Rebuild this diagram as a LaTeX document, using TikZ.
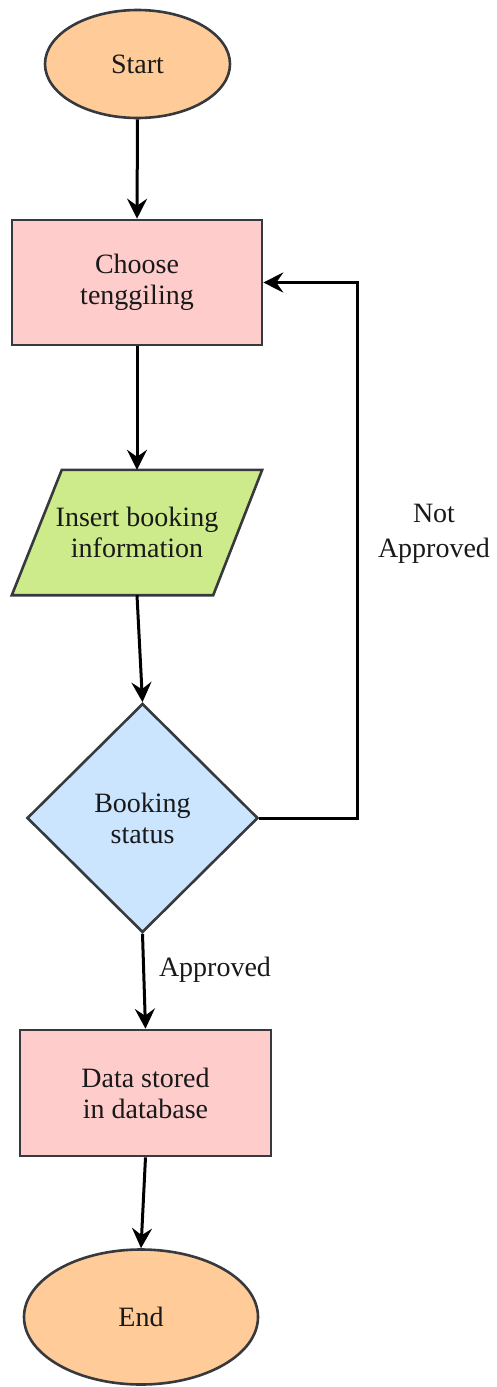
\documentclass[tikz,border=0pt]{standalone}
\usepackage{fontspec}
\setmainfont{Liberation Serif}
\usetikzlibrary{shapes.geometric,arrows.meta,backgrounds}
\definecolor{termfill}{HTML}{FFCC99}
\definecolor{procfill}{HTML}{FFCCCC}
\definecolor{iofill}{HTML}{CDEB8B}
\definecolor{decfill}{HTML}{CCE5FF}
\definecolor{edgegray}{HTML}{36393D}

\begin{document}
\begin{tikzpicture}[x=1pt,y=-1pt,
  every node/.style={font=\fontsize{28}{31}\selectfont, align=center, inner sep=0pt, text=black!90},
  shapeline/.style={draw=edgegray, line width=2.6pt},
  terminal/.style={shapeline, ellipse, fill=termfill},
  process/.style={shapeline, rectangle, fill=procfill, minimum width=250pt, minimum height=125pt},
  iobox/.style={rectangle, minimum width=250pt, minimum height=125pt},
  decision/.style={shapeline, diamond, fill=decfill, minimum width=231pt, minimum height=229pt},
  flow/.style={line width=3pt, draw=black, -{Stealth[length=20pt,width=20pt,inset=7pt]}},
  tag/.style={font=\fontsize{28}{35}\selectfont}
]
\useasboundingbox (0,0) rectangle (496,1387);

% nodes of the flow
\node[terminal, minimum width=185pt, minimum height=108pt] (start) at (137.5,64) {Start};
\node[process] (choose) at (137,282.5) {Choose\\tenggiling};
\node[iobox] (insert) at (137,532.5) {Insert booking\\information};
\node[decision] (status) at (142.5,818) {Booking\\status};
\node[process, minimum width=251pt, minimum height=126pt] (data) at (145.5,1093) {Data stored\\in database};
\node[terminal, minimum width=234pt, minimum height=135pt] (end) at (141,1317) {End};

% parallelogram outline of the input step, behind its text
\begin{scope}[on background layer]
  \filldraw[shapeline, fill=iofill]
    ([xshift=50pt]insert.north west) -- (insert.north east)
    -- ([xshift=-49pt]insert.south east) -- (insert.south west) -- cycle;
\end{scope}

% connectors
\draw[flow] (start.south) -- (choose.north);
\draw[flow] (choose.south) -- (insert.north);
\draw[flow] (insert.south) -- (status.north);
\draw[flow] (status.south) -- (data.north);
\draw[flow] (data.south) -- (end.north);
\coordinate (loopcorner) at (357,818);
\draw[flow] (status.east) -- (loopcorner) |- (choose.east);

% branch labels
\node[tag] (lblyes) at (215,970) {Approved};
\node[tag] (lblno) at (434,534) {Not\\Approved};
\end{tikzpicture}
\end{document}
